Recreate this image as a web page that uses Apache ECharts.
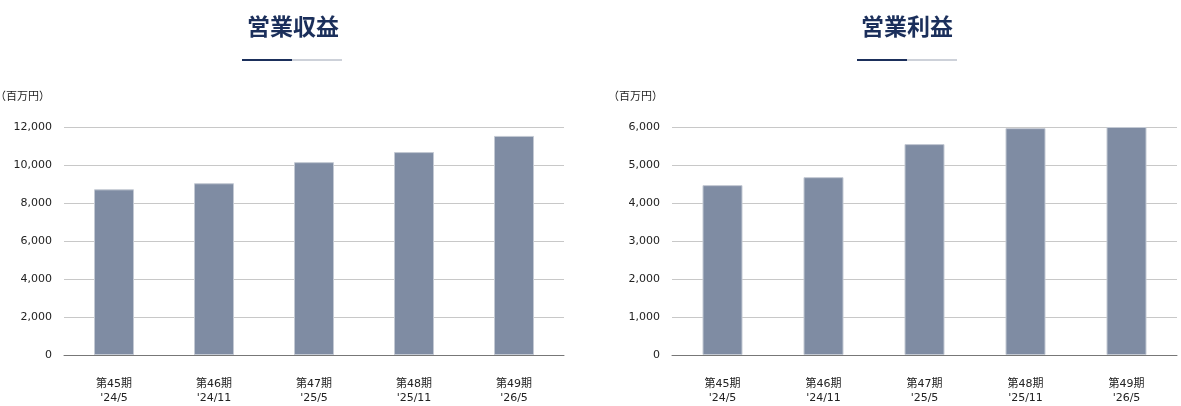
<!DOCTYPE html>
<html>
<head>
<meta charset="UTF-8">
<title>営業収益・営業利益</title>
<script type="text/javascript" src="https://cdn.jsdelivr.net/npm/echarts@6/dist/echarts.min.js"></script>
<style>
html,body{margin:0;padding:0;background:#fff;}
</style>
</head>
<body>
<div id="main" style="width:1181px;height:406px;"></div>

<script type="text/javascript">
// 期・年月
var periods = ['第45期', '第46期', '第47期', '第48期', '第49期'];
var months = ["'24/5", "'24/11", "'25/5", "'25/11", "'26/5"];
// 営業収益（百万円）
var revenue = [8720, 9040, 10150, 10680, 11530];
// 営業利益（百万円）
var profit = [4470, 4680, 5550, 5970, 6000];
// 軸目盛
var revenueTicks = {max: 12000, interval: 2000};
var profitTicks = {max: 6000, interval: 1000};

var categories = periods.map(function (p, i) { return p + '\n' + months[i]; });

var font = 'DejaVu Sans, Noto Sans CJK JP, sans-serif';
var navy = '#1b2f5b';

var mychart = echarts.init(document.getElementById('main'));

function yAxis(idx, ticks) {
    return {
        gridIndex: idx,
        type: 'value',
        min: 0,
        max: ticks.max,
        interval: ticks.interval,
        axisLine: {show: false},
        axisTick: {show: false},
        axisLabel: {
            color: '#222',
            fontSize: 11,
            fontFamily: font,
            margin: 12,
            formatter: function (v) { return v.toLocaleString('en-US'); }
        },
        splitLine: {lineStyle: {color: '#c8c8c8', width: 1}}
    };
}

function xAxis(idx) {
    return {
        gridIndex: idx,
        type: 'category',
        data: categories,
        axisLine: {lineStyle: {color: '#777', width: 1}},
        axisTick: {show: false},
        axisLabel: {
            color: '#222',
            fontSize: 11,
            fontFamily: font,
            lineHeight: 14,
            margin: 22
        }
    };
}

function barSeries(idx, data) {
    return {
        type: 'bar',
        xAxisIndex: idx,
        yAxisIndex: idx,
        data: data,
        barWidth: 40,
        itemStyle: {
            color: '#7f8ca3',
            borderColor: '#c3c9d3',
            borderWidth: 1
        }
    };
}

// タイトル下の線
function underline(cx) {
    return [
        {type: 'rect', shape: {x: cx - 50, y: 59, width: 50, height: 2}, style: {fill: navy}},
        {type: 'rect', shape: {x: cx, y: 59, width: 50, height: 2}, style: {fill: '#cdd1d9'}}
    ];
}

function titleText(text, cx) {
    return {text: text, left: cx, top: 15, textAlign: 'center', padding: 0,
            textStyle: {color: navy, fontSize: 23, fontWeight: 'bold', fontFamily: 'Noto Sans CJK JP'}};
}

function unitText(x) {
    return {text: '（百万円）', left: x, top: 90, padding: 0,
            textStyle: {color: '#222', fontSize: 11, fontWeight: 'normal', fontFamily: 'Noto Sans CJK JP'}};
}

var option = {
    animation: false,
    title: [titleText('営業収益', 293), titleText('営業利益', 907), unitText(-5), unitText(608)],
    graphic: underline(292).concat(underline(907)),
    grid: [
        {left: 64, top: 127, width: 500, height: 228},
        {left: 672, top: 127, width: 505, height: 228}
    ],
    xAxis: [xAxis(0), xAxis(1)],
    yAxis: [yAxis(0, revenueTicks), yAxis(1, profitTicks)],
    series: [barSeries(0, revenue), barSeries(1, profit)]
};

mychart.setOption(option);
</script>
</body>
</html>
